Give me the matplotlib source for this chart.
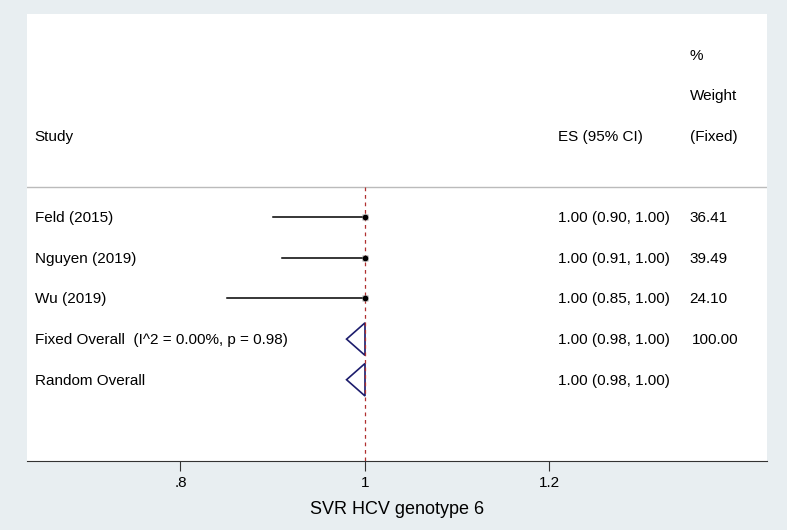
import numpy as np
from matplotlib import pyplot as plt
from matplotlib.patches import Polygon

plt.rcParams['font.family'] = ['Liberation Sans', 'DejaVu Sans']

# Dati
studies = ['Feld (2015)', 'Nguyen (2019)', 'Wu (2019)']
es = np.array([1.00, 1.00, 1.00])
lo = np.array([0.90, 0.91, 0.85])
hi = np.array([1.00, 1.00, 1.00])
weights = np.array([36.41, 39.49, 24.10])

pooled_labels = ['Fixed Overall  (I^2 = 0.00%, p = 0.98)', 'Random Overall']
pooled_es = np.array([1.00, 1.00])
pooled_lo = np.array([0.98, 0.98])
pooled_hi = np.array([1.00, 1.00])
pooled_w = ['100.00', '']

xticks = [0.8, 1.0, 1.2]
xticklabels = ['.8', '1', '1.2']

x_lab, x_es, x_w = 0.642, 1.209, 1.352
fs = 11

fig = plt.figure(figsize=(7.87, 5.30), dpi=100, facecolor='#e8eef1')
ax = fig.add_axes([27/787, 69/530, 740/787, 447/530])
ax.set_facecolor('white')
ax.set_xlim(0.6336, 1.4358)
ax.set_ylim(7.0, -4.0)

# intestazioni
ax.text(x_lab, -0.97, 'Study', fontsize=fs, va='center')
ax.text(x_es, -0.97, 'ES (95% CI)', fontsize=fs, va='center')
ax.text(x_w, -2.97, '%', fontsize=fs, va='center')
ax.text(x_w, -1.97, 'Weight', fontsize=fs, va='center')
ax.text(x_w, -0.97, '(Fixed)', fontsize=fs, va='center')
ax.axhline(0.26, color='#bbbbbb', lw=1)

# linea di nessun effetto
ax.plot([1, 1], [0.26, 7.0], color='#b03030', ls=(0, (3, 3)), lw=0.9)

# studi singoli
for i, name in enumerate(studies):
    y = i + 1
    ax.text(x_lab, y + 0.02, name, fontsize=fs, va='center')
    ax.plot([lo[i], hi[i]], [y, y], color='black', lw=1.1)
    ax.plot(es[i], y, marker='s', ms=5, color='#9a9a9a', mec='none')
    ax.plot(es[i], y, marker='o', ms=3, color='black')
    ax.text(x_es, y + 0.02, '%.2f (%.2f, %.2f)' % (es[i], lo[i], hi[i]), fontsize=fs, va='center')
    ax.text(x_w, y + 0.02, '%.2f' % weights[i], fontsize=fs, va='center')

# stime combinate
for j, name in enumerate(pooled_labels):
    y = len(studies) + 1 + j
    ax.text(x_lab, y + 0.02, name, fontsize=fs, va='center')
    d = Polygon([[pooled_lo[j], y], [pooled_es[j], y - 0.4],
                 [pooled_hi[j], y], [pooled_es[j], y + 0.4]],
                closed=True, fill=False, ec='#1c1c6c', lw=1.2)
    ax.add_patch(d)
    ax.text(x_es, y + 0.02, '%.2f (%.2f, %.2f)' % (pooled_es[j], pooled_lo[j], pooled_hi[j]),
            fontsize=fs, va='center')
    ax.text(x_w + 0.002, y + 0.02, pooled_w[j], fontsize=fs, va='center')

for s in ['top', 'left', 'right']:
    ax.spines[s].set_visible(False)
ax.spines['bottom'].set_color('#333333')
ax.set_yticks([])
ax.set_xticks(xticks)
ax.set_xticklabels(xticklabels, fontsize=11)
ax.tick_params(axis='x', length=7, color='#333333', pad=4)
ax.set_xlabel('SVR HCV genotype 6', fontsize=13, labelpad=8)

plt.savefig('out.png', dpi=100, facecolor=fig.get_facecolor())
